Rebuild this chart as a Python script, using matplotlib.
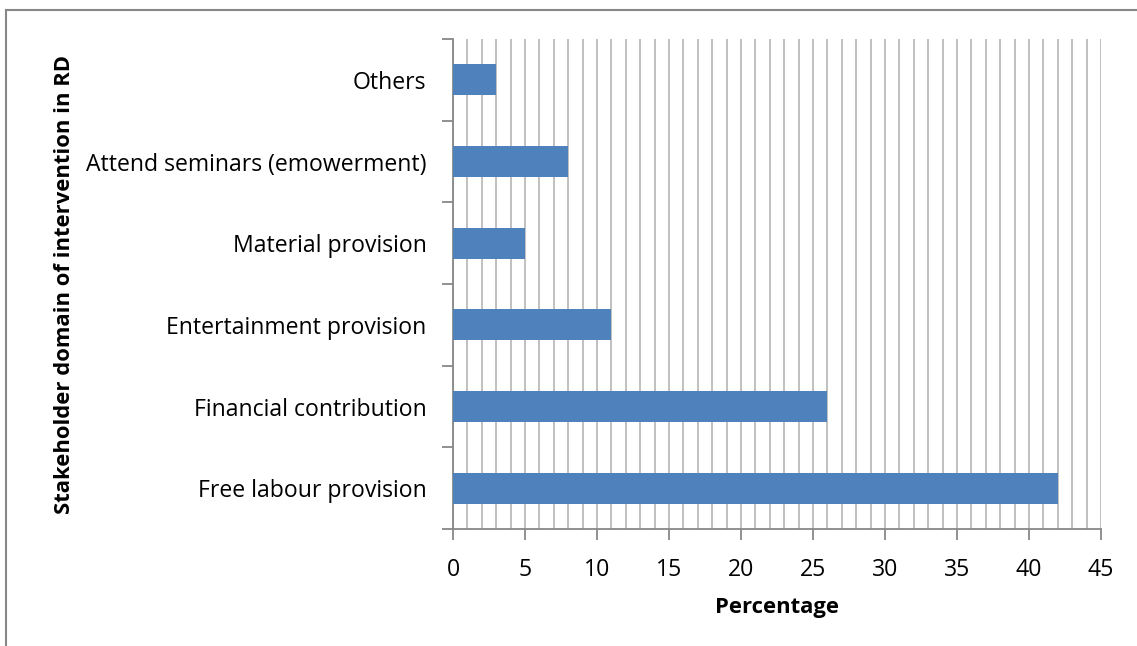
import matplotlib.pyplot as plt
from matplotlib.lines import Line2D

categories = ["Free labour provision", "Financial contribution", "Entertainment provision",
              "Material provision", "Attend seminars (emowerment)", "Others"]
values = [42, 26, 11, 5, 8, 3]

plt.rcParams['font.family'] = ['Open Sans', 'DejaVu Sans']

fig = plt.figure(figsize=(11.37, 6.46), dpi=100)
ax = fig.add_axes([0.3984, 0.1811, 0.5699, 0.7585])

ypos = list(range(len(categories)))
ax.barh(ypos, values, height=0.38, color="#4F81BD", zorder=3)

ax.set_xlim(0, 45)
ax.set_ylim(-0.5, len(categories) - 0.5)
ax.set_xticks(range(0, 46, 5))
ax.set_xticks(range(0, 46, 1), minor=True)
ax.grid(True, axis="x", which="both", color="#BBBBBB", linewidth=1.3, zorder=0)

# category labels without tick marks, tick marks between categories
ax.set_yticks(ypos)
ax.set_yticklabels(categories, fontsize=16.6)
ax.tick_params(axis="y", which="major", length=0, pad=19)
ax.set_yticks([i - 0.5 for i in range(len(categories) + 1)], minor=True)
ax.tick_params(axis="y", which="minor", length=8, color="#888888", width=1.3)
ax.tick_params(axis="x", which="major", length=8, color="#888888", width=1.3, labelsize=16.6, pad=13)
ax.tick_params(axis="x", which="minor", length=0)

for s in ["top", "right"]:
    ax.spines[s].set_visible(False)
for s in ["left", "bottom"]:
    ax.spines[s].set_color("#888888")
    ax.spines[s].set_linewidth(1.3)

ax.set_xlabel("Percentage", fontsize=15.8, fontweight="bold", labelpad=11)
ax.set_ylabel("Stakeholder domain of intervention in RD", fontsize=15.8, fontweight="bold", labelpad=8)

# outer frame (top and left visible)
fig.add_artist(Line2D([6 / 1137, 1], [1 - 10 / 646, 1 - 10 / 646], transform=fig.transFigure, color="#888888", linewidth=1.5))
fig.add_artist(Line2D([6 / 1137, 6 / 1137], [0, 1 - 10 / 646], transform=fig.transFigure, color="#888888", linewidth=1.5))

fig.savefig("out.png", dpi=100)
